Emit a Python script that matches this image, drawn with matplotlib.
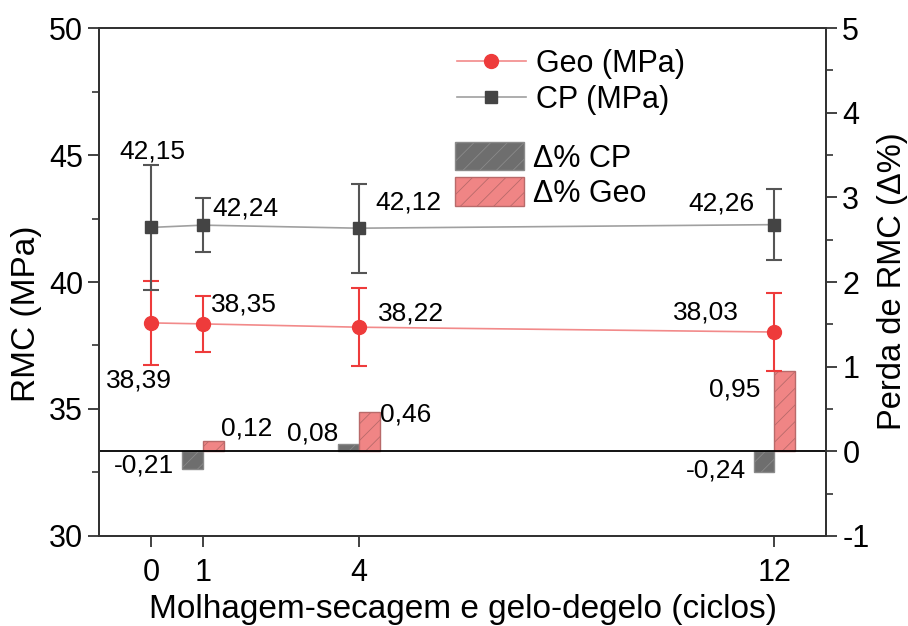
import matplotlib
matplotlib.use("Agg")
import matplotlib.pyplot as plt
from matplotlib.lines import Line2D
from matplotlib.patches import Patch
from matplotlib.ticker import MultipleLocator

plt.rcParams['font.family'] = ['Liberation Sans', 'DejaVu Sans']
plt.rcParams['hatch.linewidth'] = 0.6
plt.rcParams['axes.unicode_minus'] = False

# Cycles of wetting-drying and freeze-thaw
cycles = [0, 1, 4, 12]
cycle_labels = ['0', '1', '4', '12']

# Compressive strength (MPa) and standard deviations
geo_mpa = [38.39, 38.35, 38.22, 38.03]
geo_err = [1.65, 1.10, 1.54, 1.52]
cp_mpa = [42.15, 42.24, 42.12, 42.26]
cp_err = [2.45, 1.06, 1.75, 1.40]

# Strength loss (%) relative to reference
bar_cycles = [1, 4, 12]
loss_cp = [-0.21, 0.08, -0.24]
loss_geo = [0.12, 0.46, 0.95]

red = '#EE3B3B'
red_line = '#F28A8A'
gray = '#444444'
gray_line = '#A0A0A0'

fig = plt.figure(figsize=(9.08, 6.26), dpi=100)
ax = fig.add_axes([0.109, 0.144, 0.801, 0.811])
ax2 = ax.twinx()

# Bars on the secondary axis
bw = 0.4
ax2.bar([c - bw / 2 for c in bar_cycles], loss_cp, width=bw, facecolor='#6E6E6E',
        edgecolor='#8A8A8A', hatch='//', linewidth=1.0, zorder=2)
ax2.bar([c + bw / 2 for c in bar_cycles], loss_geo, width=bw, facecolor='#F08585',
        edgecolor='#B86A6A', hatch='//', linewidth=1.0, zorder=2)
ax2.axhline(0, color='black', lw=1.3, zorder=3)

# Bar value labels
fmt = lambda v: f"{v:.2f}".replace('.', ',')
cp_bar_offsets = [(-49, 4), (-36, 11), (-48, 1)]
geo_bar_offsets = [(33, 13), (37, -2), (-50, -19)]
for c, v, off in zip(bar_cycles, loss_cp, cp_bar_offsets):
    ax2.annotate(fmt(v), (c - bw / 2, v), xytext=off, textcoords='offset pixels',
                 ha='center', va='center', fontsize=19)
for c, v, off in zip(bar_cycles, loss_geo, geo_bar_offsets):
    ax2.annotate(fmt(v), (c + bw / 2, v), xytext=off, textcoords='offset pixels',
                 ha='center', va='center', fontsize=19)

ax2.set_ylim(-1, 5)
ax2.yaxis.set_major_locator(MultipleLocator(1))
ax2.yaxis.set_minor_locator(MultipleLocator(0.5))

# Strength lines on the primary axis, drawn above the bars
ax.set_zorder(ax2.get_zorder() + 1)
ax.patch.set_visible(False)
ax.plot(cycles, geo_mpa, '-', color=red_line, lw=1.2, zorder=3)
ax.errorbar(cycles, geo_mpa, yerr=geo_err, fmt='o', color=red, ms=10,
            ecolor=red, elinewidth=1.5, capsize=6, capthick=1.5, zorder=4)
ax.plot(cycles, cp_mpa, '-', color=gray_line, lw=1.2, zorder=3)
ax.errorbar(cycles, cp_mpa, yerr=cp_err, fmt='s', color=gray, ms=9,
            ecolor='#555555', elinewidth=1.5, capsize=6, capthick=1.5, zorder=4)

cp_offsets = [(1, 76), (43, 17), (50, 26), (-53, 21)]
geo_offsets = [(-12, -58), (41, 19), (52, 14), (-68, 20)]
for c, v, off in zip(cycles, cp_mpa, cp_offsets):
    ax.annotate(fmt(v), (c, v), xytext=off, textcoords='offset pixels',
                ha='center', va='center', fontsize=19)
for c, v, off in zip(cycles, geo_mpa, geo_offsets):
    ax.annotate(fmt(v), (c, v), xytext=off, textcoords='offset pixels',
                ha='center', va='center', fontsize=19)

ax.set_xlim(-1, 13)
ax.set_ylim(30, 50)
ax.set_xticks(cycles)
ax.set_xticklabels(cycle_labels)
ax.yaxis.set_major_locator(MultipleLocator(5))
ax.yaxis.set_minor_locator(MultipleLocator(2.5))
ax.set_xlabel('Molhagem-secagem e gelo-degelo (ciclos)', fontsize=24, labelpad=4)

for a in (ax, ax2):
    for s in a.spines.values():
        s.set_linewidth(1.4)
        s.set_color('#333333')
    a.tick_params(which='major', direction='out', length=8, width=1.3,
                  labelsize=22, color='#333333')
    a.tick_params(which='minor', direction='out', length=5, width=1.2, color='#333333')
ax.tick_params(axis='x', pad=8)

# Axis titles placed at fixed figure positions
fig.text(27 / 908, 1 - 314 / 626, 'RMC (MPa)', rotation=90, fontsize=24,
         ha='center', va='center')
fig.text(892 / 908, 1 - 281 / 626, 'Perda de RMC (Δ%)', rotation=90, fontsize=23.5,
         ha='center', va='center')

# Legends
line_handles = [
    Line2D([], [], color=red_line, lw=1.2, marker='o', ms=10, mfc=red, mec=red),
    Line2D([], [], color=gray_line, lw=1.2, marker='s', ms=9, mfc=gray, mec=gray),
]
leg1 = fig.legend(line_handles, ['Geo (MPa)', 'CP (MPa)'], loc='upper left',
                  bbox_to_anchor=(457 / 908, 1 - 49 / 626), frameon=False,
                  fontsize=22, handlelength=2.25, handletextpad=0.33, labelspacing=0.2,
                  borderaxespad=0, borderpad=0)
bar_handles = [
    Patch(facecolor='#6E6E6E', edgecolor='#8A8A8A', hatch='//'),
    Patch(facecolor='#F08585', edgecolor='#B86A6A', hatch='//'),
]
leg2 = fig.legend(bar_handles, ['Δ% CP', 'Δ% Geo'], loc='upper left',
                  bbox_to_anchor=(455 / 908, 1 - 142 / 626), frameon=False,
                  fontsize=22, handlelength=2.25, handleheight=1.05, handletextpad=0.3,
                  labelspacing=0.12, borderaxespad=0, borderpad=0)

fig.savefig('out.png', dpi=100)
